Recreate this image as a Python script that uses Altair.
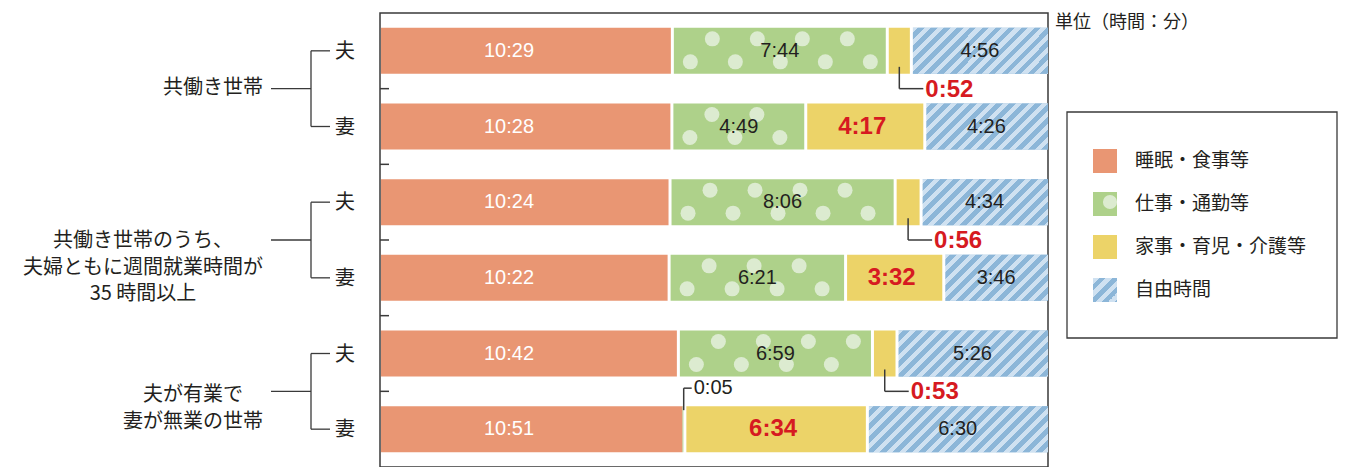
import altair as alt
import pandas as pd

# ---------------- data ----------------
row_ids = ["r1", "r2", "r3", "r4", "r5", "r6"]
sexes = ["夫", "妻", "夫", "妻", "夫", "妻"]
group_names = ["共働き世帯",
               "共働き世帯のうち、\n夫婦ともに週間就業時間が\n35 時間以上",
               "夫が有業で\n妻が無業の世帯"]
categories = ["睡眠・食事等", "仕事・通勤等", "家事・育児・介護等", "自由時間"]
sleep = ["10:29", "10:28", "10:24", "10:22", "10:42", "10:51"]
work = ["7:44", "4:49", "8:06", "6:21", "6:59", "0:05"]
house = ["0:52", "4:17", "0:56", "3:32", "0:53", "6:34"]
free = ["4:56", "4:26", "4:34", "3:46", "5:26", "6:30"]
unit_text = "単位（時間：分）"

# ---------------- styles ----------------
ORANGE = "#e99673"
GREEN = "#aed18a"
DOT = "#dcebd0"
YELLOW = "#ecd368"
BLUE_D = "#8cb6d8"
BLUE_L = "#cfe1f1"
RED = "#d61a21"
INK = "#231f20"
LINE = "#3a3a3a"
colors = [ORANGE, GREEN, YELLOW, BLUE_D]
JP = "Noto Sans CJK JP"
LAT = "Liberation Sans"

W_PLOT = 668
H_PLOT = 454
STEP = H_PLOT / 6
HALF = STEP / 2
BAR_H = 46
PAD_IN = 1 - BAR_H / STEP
PX_PER_MIN = (W_PLOT - 1) / 1440


def mins(s):
    h, m = s.split(":")
    return int(h) * 60 + int(m)


recs = []
for i, r in enumerate(row_ids):
    start = 0
    for ci, series in enumerate([sleep, work, house, free]):
        v = mins(series[i])
        recs.append(dict(row=r, sex=sexes[i], cat=categories[ci], order=ci,
                         start=start, end=start + v, mid=start + v / 2,
                         label=series[i], minutes=v))
        start += v
bars = pd.DataFrame(recs)

xscale = alt.Scale(domain=[0, 1440], range=[1, W_PLOT], clamp=True, nice=False, zero=False)
yscale = alt.Scale(domain=row_ids, paddingInner=PAD_IN, paddingOuter=PAD_IN / 2)


def X(f):
    return alt.X(f, type="quantitative", scale=xscale, axis=None)


def Y(f="row"):
    return alt.Y(f, type="nominal", scale=yscale, axis=None)


# stripe gradient (objectBoundingBox math so stripes stay at 45 degrees)
def stripe_grad(w, h, p=13.0):
    s = w + h
    a = w * s / (w * w + h * h)
    b = h * s / (w * w + h * h)
    stops = []
    k = 0
    while k * p < s:
        o0 = round(k * p / s, 5)
        o1 = round(min((k + 0.48) * p / s, 1), 5)
        o2 = round(min((k + 1) * p / s, 1), 5)
        stops += [{"offset": o0, "color": BLUE_L}, {"offset": o1, "color": BLUE_L},
                  {"offset": o1, "color": BLUE_D}, {"offset": o2, "color": BLUE_D}]
        k += 1
    return {"gradient": "linear", "x1": 0, "y1": 0, "x2": round(a, 5), "y2": round(b, 5), "stops": stops}


layers = []
base = alt.Chart(bars).mark_bar().encode(
    x=X("start"), x2="end", y=Y(),
    color=alt.Color("cat:N", scale=alt.Scale(domain=categories, range=colors), legend=None),
)
layers.append(base)

# striped overlays for free time
free_df = bars[bars.cat == categories[3]]
for _, rr in free_df.iterrows():
    g = stripe_grad(rr.minutes * PX_PER_MIN, BAR_H)
    layers.append(alt.Chart(free_df[free_df.row == rr.row]).mark_bar(fill=g).encode(
        x=X("start"), x2="end", y=Y()))

# polka-dot texture on work segments
dots = []
per = 45 / PX_PER_MIN
for _, rr in bars[bars.cat == categories[1]].iterrows():
    for lane, first in (("a", 40), ("b", 18)):
        pos = rr.start + first / PX_PER_MIN
        while pos + 8 / PX_PER_MIN <= rr.end - 1.5 / PX_PER_MIN:
            dots.append(dict(row=rr.row, x=pos, lane=lane))
            pos += per
dots = pd.DataFrame(dots)
for lane, off in (("a", -12), ("b", 11)):
    layers.append(alt.Chart(dots[dots.lane == lane]).mark_circle(size=225, opacity=1, color=DOT, yOffset=off).encode(
        x=X("x"), y=Y()))

# white separators between segments
seps = []
for i, r in enumerate(row_ids):
    sub = bars[bars.row == r].sort_values("order").reset_index(drop=True)
    for k in range(3):
        if sub.loc[k + 1, "minutes"] >= 10:
            seps.append(dict(row=r, x=sub.loc[k, "end"]))
seps = pd.DataFrame(seps)
layers.append(alt.Chart(seps).mark_tick(color="white", thickness=3, size=BAR_H + 2, opacity=1).encode(
    x=X("x"), y=Y()))

# inside labels
inside = bars[bars.minutes >= 60]
layers.append(alt.Chart(inside[inside.cat == categories[0]]).mark_text(
    font=LAT, fontSize=20, color="white", baseline="middle").encode(
    x=alt.value(129), y=Y(), text="label:N"))
layers.append(alt.Chart(inside[inside.cat.isin([categories[1], categories[3]])]).mark_text(
    font=LAT, fontSize=20, color=INK, baseline="middle").encode(
    x=X("mid"), y=Y(), text="label:N"))
layers.append(alt.Chart(inside[inside.cat == categories[2]]).mark_text(
    font=LAT, fontSize=24, fontWeight="bold", color=RED, baseline="middle", dx=-3).encode(
    x=X("mid"), y=Y(), text="label:N"))

# callouts for small segments
small = bars[bars.minutes < 60]
below = small[small.sex == "夫"]
above = small[small.sex == "妻"]
layers.append(alt.Chart(below).mark_rule(color=LINE, strokeWidth=1.5, yOffset=16, y2Offset=HALF).encode(
    x=X("mid"), y=Y(), y2="row"))
layers.append(alt.Chart(below).mark_rule(color=LINE, strokeWidth=1.5, yOffset=HALF, x2Offset=24).encode(
    x=X("mid"), x2="mid", y=Y()))
layers.append(alt.Chart(below).mark_text(font=LAT, fontSize=24, fontWeight="bold", color=RED,
                                         align="left", baseline="middle", dx=26, yOffset=HALF + 1).encode(
    x=X("mid"), y=Y(), text="label:N"))
layers.append(alt.Chart(above).mark_rule(color=LINE, strokeWidth=1.5, yOffset=-19, y2Offset=-41).encode(
    x=X("mid"), y=Y(), y2="row"))
layers.append(alt.Chart(above).mark_rule(color=LINE, strokeWidth=1.5, yOffset=-41, x2Offset=8).encode(
    x=X("mid"), x2="mid", y=Y()))
layers.append(alt.Chart(above).mark_text(font=LAT, fontSize=20, color=INK,
                                         align="left", baseline="middle", dx=10, yOffset=-41).encode(
    x=X("mid"), y=Y(), text="label:N"))

# inner ticks between rows
ticks = pd.DataFrame({"row": row_ids[1:]})
layers.append(alt.Chart(ticks).mark_rule(color=LINE, strokeWidth=1.5, yOffset=-HALF).encode(
    x=alt.value(0), x2=alt.value(9), y=Y()))

# left side: 夫/妻 labels and brackets
rows_df = pd.DataFrame({"row": row_ids, "sex": sexes})
groups_df = pd.DataFrame({"name": group_names, "top": row_ids[0::2], "bottom": row_ids[1::2], "g": [0, 1, 2]})
layers.append(alt.Chart(rows_df).mark_text(font=JP, fontSize=20, color=INK, baseline="middle", yOffset=1).encode(
    x=alt.value(-35), y=Y(), text="sex:N"))
layers.append(alt.Chart(rows_df).mark_rule(color=LINE, strokeWidth=1.3).encode(
    x=alt.value(-69), x2=alt.value(-50), y=Y()))
layers.append(alt.Chart(groups_df).mark_rule(color=LINE, strokeWidth=1.3).encode(
    x=alt.value(-69), y=Y("top"), y2="bottom"))
layers.append(alt.Chart(groups_df).mark_rule(color=LINE, strokeWidth=1.3, yOffset=HALF).encode(
    x=alt.value(-109), x2=alt.value(-69), y=Y("top")))
for g, (cx, dy) in enumerate([(-167, HALF - 1), (-237, HALF + 1), (-187, HALF + 4)]):
    layers.append(alt.Chart(groups_df[groups_df.g == g]).mark_text(
        font=JP, fontSize=20, color=INK, align="center", baseline="middle",
        lineBreak="\n", lineHeight=26.5, yOffset=dy).encode(
        x=alt.value(cx), y=Y("top"), text="name:N"))

# unit note
one = pd.DataFrame({"k": [0]})
layers.append(alt.Chart(one).mark_text(font=JP, fontSize=18, color=INK, align="left", baseline="middle").encode(
    x=alt.value(675), y=alt.value(10), text=alt.value(unit_text)))

# legend (drawn by hand: patterned swatches)
LEG_X, LEG_Y, LEG_GAP, SW = 713, 136, 43, 24
layers.append(alt.Chart(one).mark_rect(filled=False, stroke=LINE, strokeWidth=1.3).encode(
    x=alt.value(687), x2=alt.value(957), y=alt.value(99), y2=alt.value(325)))
for i, cat in enumerate(categories):
    y0 = LEG_Y + i * LEG_GAP
    fill = stripe_grad(SW, SW) if i == 3 else colors[i]
    cdf = pd.DataFrame({"cat": [cat]})
    layers.append(alt.Chart(cdf).mark_rect(fill=fill, strokeWidth=0).encode(
        x=alt.value(LEG_X), x2=alt.value(LEG_X + SW), y=alt.value(y0), y2=alt.value(y0 + SW)))
    if i == 1:
        layers.append(alt.Chart(cdf).mark_circle(size=200, color=DOT, opacity=1).encode(
            x=alt.value(LEG_X + 17), y=alt.value(y0 + 10)))
    layers.append(alt.Chart(cdf).mark_text(font=JP, fontSize=19, color=INK, align="left", baseline="middle").encode(
        x=alt.value(LEG_X + SW + 18), y=alt.value(y0 + SW / 2), text="cat:N"))

chart = alt.layer(*layers).properties(
    width=W_PLOT, height=H_PLOT,
    padding={"left": 372, "top": 5, "right": 292, "bottom": 0},
    autosize=alt.AutoSizeParams(type="none"),
    background="white",
).configure_view(stroke=LINE, strokeWidth=1.5)

chart.save("out.html", embed_options={"renderer": "svg", "actions": False})
